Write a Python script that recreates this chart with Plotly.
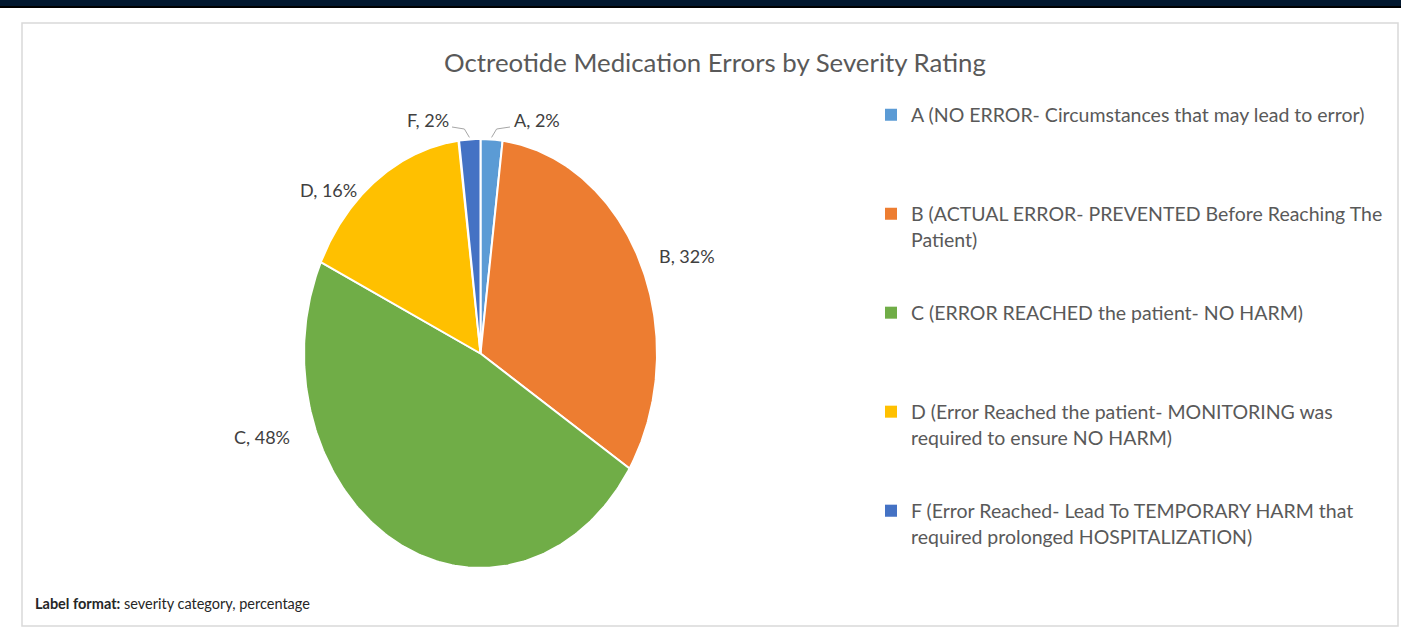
import numpy as np
import plotly.graph_objects as go

# ---- data -------------------------------------------------------------
categories = ["A", "B", "C", "D", "F"]
percentages = [2, 32, 48, 16, 2]
descriptions = [
    "A (NO ERROR- Circumstances that may lead to error)",
    "B (ACTUAL ERROR- PREVENTED Before Reaching The<br>Patient)",
    "C (ERROR REACHED the patient- NO HARM)",
    "D (Error Reached the patient- MONITORING was<br>required to ensure NO HARM)",
    "F (Error Reached- Lead To TEMPORARY HARM that<br>required prolonged HOSPITALIZATION)",
]
colors = ["#5B9BD5", "#ED7D31", "#70AD47", "#FFC000", "#4472C4"]

# ---- layout geometry (pixel space) ------------------------------------
W, H = 1401, 635
CX, CY = 480.5, 353.5          # pie centre
RX, RY = 176.5, 214.5          # pie radii (horizontal, vertical)
FONT = "Lato, 'Open Sans', sans-serif"
TEXT_GREY = "#595959"
LABEL_GREY = "#404040"

# data-label placement (pixel centres)
label_pos = {
    "A": (537, 120),
    "B": (687, 256),
    "C": (262, 437),
    "D": (328, 190),
    "F": (428, 120),
}
leader_slices = ["A", "F"]

fig = go.Figure()

total = float(sum(percentages))
start = 0.0
mid_angles = {}
for cat, val, col in zip(categories, percentages, colors):
    frac0 = start / total
    frac1 = (start + val) / total
    theta = np.linspace(frac0, frac1, 200) * 2 * np.pi
    xs = np.concatenate([[CX], CX + RX * np.sin(theta), [CX]])
    ys = np.concatenate([[CY], CY - RY * np.cos(theta), [CY]])
    fig.add_trace(go.Scatter(
        x=xs, y=ys, mode="lines", fill="toself", fillcolor=col,
        line=dict(color="white", width=2), hoverinfo="skip",
        showlegend=False,
    ))
    mid_angles[cat] = (frac0 + frac1) / 2 * 2 * np.pi
    start += val

# legend entries (square swatches); every entry spans two lines so the
# entries sit on an even pitch
for cat, desc, col in zip(categories, descriptions, colors):
    text = desc if "<br>" in desc else desc + "<br> "
    fig.add_trace(go.Scatter(
        x=[None], y=[None], mode="markers", name=text,
        marker=dict(symbol="square", size=8, color=col),
        legendgroup=cat, showlegend=True,
    ))

annotations = []
shapes = []

# data labels
for cat, val in zip(categories, percentages):
    lx, ly = label_pos[cat]
    annotations.append(dict(
        x=lx, y=ly, xref="x", yref="y", text=f"{cat}, {val}%",
        showarrow=False, font=dict(family=FONT, size=18, color=LABEL_GREY),
        xanchor="center", yanchor="middle",
    ))

# leader lines for the thin slices: from the label's lower inner corner
# down to the middle of the slice's outer edge
for cat in leader_slices:
    a = mid_angles[cat]
    ex, ey = CX + RX * np.sin(a), CY - RY * np.cos(a) - 2
    lx, ly = label_pos[cat]
    if ex < lx:      # label sits to the right of the slice
        sx, kx = lx - 27, ex + 5
    else:            # label sits to the left of the slice
        sx, kx = lx + 24, ex - 5
    path = f"M {sx:.1f} {ly + 7:.1f} L {kx:.1f} {ly + 9:.1f} L {ex:.1f} {ey:.1f}"
    shapes.append(dict(type="path", path=path, xref="x", yref="y",
                       line=dict(color="#A6A6A6", width=1)))

# title
annotations.append(dict(
    x=714.5, y=62, xref="x", yref="y",
    text="Octreotide Medication Errors by Severity Rating",
    showarrow=False, font=dict(family=FONT, size=25.8, color=TEXT_GREY),
    xanchor="center", yanchor="middle",
))

# footnote
annotations.append(dict(
    x=33, y=603, xref="x", yref="y",
    text="<b>Label format:</b> severity category, percentage",
    showarrow=False, font=dict(family=FONT, size=14.5, color="#262626"),
    xanchor="left", yanchor="middle",
))

# page header band and chart panel frame
shapes += [
    dict(type="rect", x0=0, x1=W, y0=0, y1=6, xref="x", yref="y",
         fillcolor="#02182F", line=dict(width=0), layer="above"),
    dict(type="rect", x0=0, x1=W, y0=6, y1=8, xref="x", yref="y",
         fillcolor="#000000", line=dict(width=0), layer="above"),
    dict(type="rect", x0=22, x1=1398, y0=23, y1=626, xref="x", yref="y",
         fillcolor="rgba(0,0,0,0)", line=dict(color="#D9D9D9", width=1.5),
         layer="below"),
]

fig.update_layout(
    width=W, height=H,
    margin=dict(l=0, r=0, t=0, b=0),
    paper_bgcolor="white", plot_bgcolor="white",
    xaxis=dict(range=[0, W], visible=False, fixedrange=True, domain=[0, 1]),
    yaxis=dict(range=[H, 0], visible=False, fixedrange=True, domain=[0, 1]),
    showlegend=True,
    legend=dict(
        x=871 / W, y=1 - 95.5 / H, xanchor="left", yanchor="top",
        font=dict(family=FONT, size=19.5, color=TEXT_GREY),
        valign="top", tracegroupgap=45.3, bgcolor="rgba(0,0,0,0)",
        itemsizing="constant",
    ),
    annotations=annotations,
    shapes=shapes,
)

fig.write_html("out.html")
